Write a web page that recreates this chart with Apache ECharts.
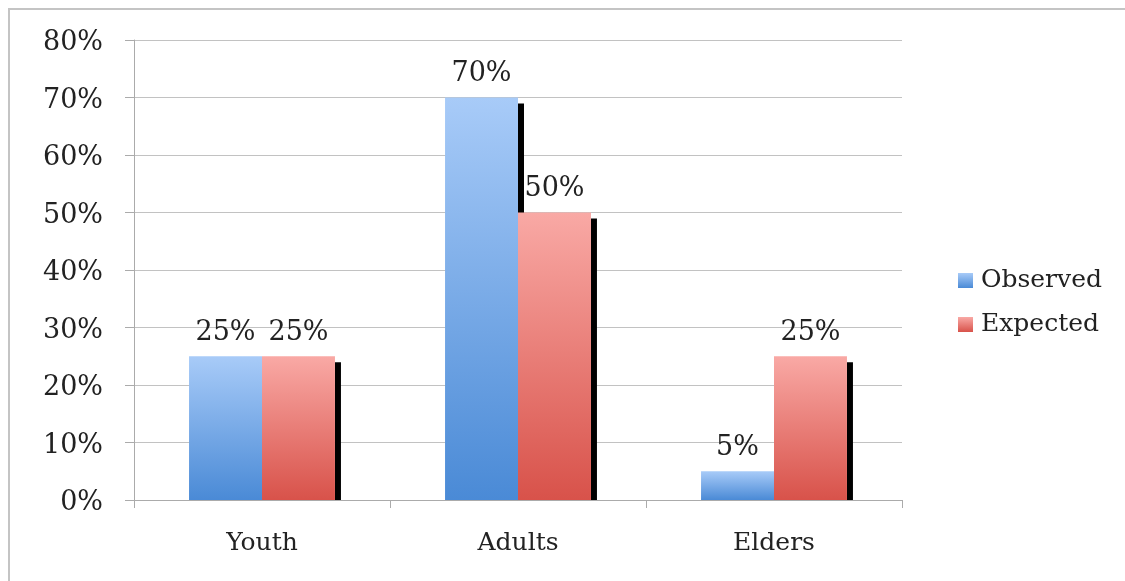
<!DOCTYPE html>
<html>
<head>
<meta charset="utf-8">
<script src="https://cdn.jsdelivr.net/npm/echarts@6/dist/echarts.min.js"></script>
<style>
html,body{margin:0;padding:0;background:#fff;}
#chart{width:1125px;height:581px;}
</style>
</head>
<body>
<div id="chart"></div>
<script>
const categories = ['Youth', 'Adults', 'Elders'];
const observed = [25, 70, 5];
const expected = [25, 50, 25];
const seriesNames = ['Observed', 'Expected'];
const yTicks = { min: 0, max: 80, interval: 10 };

const FONT = 'DejaVu Serif';
const CAT_GAP = 0.43;

function grad(top, bottom) {
  return new echarts.graphic.LinearGradient(0, 0, 0, 1, [
    { offset: 0, color: top },
    { offset: 1, color: bottom }
  ]);
}

const shadowData = observed.map((v, i) => [i, v, 0]).concat(expected.map((v, i) => [i, v, 1]));

const chart = echarts.init(document.getElementById('chart'));
chart.setOption({
  backgroundColor: '#fff',
  animation: false,
  graphic: [{
    type: 'polyline',
    shape: { points: [[9, 581], [9, 9], [1125, 9]] },
    style: { fill: 'none', stroke: '#c4c4c4', lineWidth: 2 },
    silent: true,
    z: -10
  }],
  grid: { left: 134, right: 223, top: 40, bottom: 81 },
  legend: {
    data: seriesNames,
    orient: 'vertical',
    left: 953,
    top: 263,
    itemWidth: 15,
    itemHeight: 15,
    itemGap: 19,
    icon: 'rect',
    textStyle: { fontFamily: FONT, fontSize: 25, color: '#222', padding: [0, 0, 0, 3] }
  },
  xAxis: {
    type: 'category',
    data: categories,
    axisLine: { lineStyle: { color: '#ababab', width: 1 } },
    axisTick: { show: true, length: 8, lineStyle: { color: '#ababab' } },
    axisLabel: { fontFamily: FONT, fontSize: 25, color: '#222', margin: 31 }
  },
  yAxis: {
    type: 'value',
    min: yTicks.min,
    max: yTicks.max,
    interval: yTicks.interval,
    axisLine: { show: true, lineStyle: { color: '#ababab', width: 1 } },
    axisTick: { show: true, length: 9, lineStyle: { color: '#ababab' } },
    axisLabel: {
      fontFamily: FONT, fontSize: 27, color: '#222', margin: 31,
      formatter: function (v) { return '{a|' + v + '%}'; },
      rich: { a: { fontFamily: FONT, fontSize: 27, color: '#222', padding: [6, 0, 0, 0] } }
    },
    splitLine: { lineStyle: { color: '#c2c2c2', width: 1 } }
  },
  series: [
    {
      type: 'custom',
      name: 'shadow',
      z: 1,
      silent: true,
      data: shadowData,
      encode: { x: 0, y: 1 },
      renderItem: function (params, api) {
        const ci = api.value(0);
        const v = api.value(1);
        const si = api.value(2);
        const top = api.coord([ci, v]);
        const base = api.coord([ci, 0]);
        const band = api.size([1, 0])[0];
        const bw = band * (1 - CAT_GAP) / 2;
        const right = si === 0 ? top[0] : top[0] + bw;
        const y1 = top[1] + 6;
        return {
          type: 'rect',
          shape: { x: right, y: y1, width: 6, height: Math.max(0, base[1] - y1) },
          style: { fill: '#000' }
        };
      }
    },
    {
      type: 'bar',
      name: seriesNames[0],
      data: observed,
      z: 2,
      barGap: '0%',
      barCategoryGap: (CAT_GAP * 100) + '%',
      itemStyle: { color: grad('#a8cbf8', '#4a8ad6') },
      label: { show: true, position: 'top', distance: 10, formatter: '{c}%', fontFamily: FONT, fontSize: 27, color: '#222' }
    },
    {
      type: 'bar',
      name: seriesNames[1],
      data: expected,
      z: 2,
      barGap: '0%',
      barCategoryGap: (CAT_GAP * 100) + '%',
      itemStyle: { color: grad('#f9a9a5', '#d8524a') },
      label: { show: true, position: 'top', distance: 10, formatter: '{c}%', fontFamily: FONT, fontSize: 27, color: '#222' }
    }
  ]
});
</script>
</body>
</html>
